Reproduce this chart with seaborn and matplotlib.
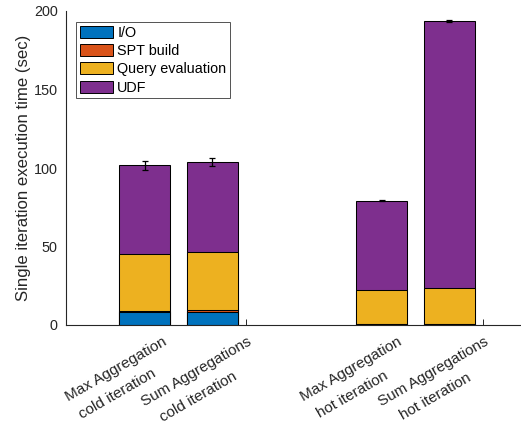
import matplotlib
matplotlib.use("Agg")
import matplotlib.pyplot as plt
import matplotlib.transforms as mtransforms
from matplotlib.patches import Patch
from matplotlib.font_manager import FontProperties
import seaborn as sns
import pandas as pd
import numpy as np

# ---- data ----
categories = ["Max Aggregation\ncold iteration", "Sum Aggregations\ncold iteration",
              "Max Aggregation\nhot iteration", "Sum Aggregations\nhot iteration"]
components = ["I/O", "SPT build", "Query evaluation", "UDF"]
io_time = [8.1, 8.5, 0.4, 0.4]
spt_time = [1.0, 1.0, 0.2, 0.2]
query_time = [35.9, 37.2, 21.7, 22.8]
udf_time = [56.7, 57.1, 56.7, 170.4]
err = [3.0, 2.6, 0.3, 0.6]

colors = ["#0072BD", "#D95319", "#EDB120", "#7E2F8E"]

# ---- layout (positions) ----
bar_pos = [1.0, 2.0, 4.5, 5.5]
tick_pos = [1.25, 2.5, 4.72, 6.0]

sns.set_style("white")
plt.rcParams['font.family'] = ['Liberation Sans', 'DejaVu Sans']
axcol = "#262626"
DPI = 100

fig = plt.figure(figsize=(5.21, 4.28), dpi=DPI)
ax = fig.add_axes([66/521, (428-325)/428, (521-66)/521, 314/428])

layers = np.array([io_time, spt_time, query_time, udf_time])
cum = np.cumsum(layers, axis=0)

# draw from top cumulative down so lower segments overlay
for i in range(3, -1, -1):
    df = pd.DataFrame({"x": bar_pos, "y": cum[i]})
    sns.barplot(data=df, x="x", y="y", native_scale=True, width=0.75,
                color=colors[i], saturation=1, edgecolor="black",
                linewidth=0.75, ax=ax, errorbar=None)

ax.errorbar(bar_pos, cum[3], yerr=err, fmt="none", ecolor="black",
            elinewidth=0.9, capsize=2.5, capthick=0.9, zorder=5)

ax.set_xlim(-0.16, 6.56)
ax.set_ylim(0, 200)
ax.set_yticks([0, 50, 100, 150, 200])
ax.set_xticks(tick_pos)
ax.set_xticklabels([])
ax.set_xlabel("")
ax.set_ylabel("Single iteration execution time (sec)", fontsize=12.1, color=axcol, labelpad=2)

for s in ["top", "right"]:
    ax.spines[s].set_visible(False)
for s in ["left", "bottom"]:
    ax.spines[s].set_color(axcol)
    ax.spines[s].set_linewidth(0.8)

ax.tick_params(axis="both", direction="in", length=4, width=0.7, color=axcol,
               labelsize=10.4, labelcolor=axcol)
ax.tick_params(axis="y", pad=6)
ax.tick_params(axis="x", bottom=True)

# rotated two-line tick labels (second line shifted straight down, as in reference)
fs_lab = 11
fp = FontProperties(family=['Liberation Sans', 'DejaVu Sans'], size=fs_lab)
renderer = fig.canvas.get_renderer()
ang = np.deg2rad(30)
base = mtransforms.blended_transform_factory(ax.transData, ax.transAxes)


def off(dx, dy):
    return base + mtransforms.ScaledTranslation(dx / DPI, -dy / DPI, fig.dpi_scale_trans)


for xp, lab in zip(tick_pos, categories):
    l1, l2 = lab.split("\n")
    w1, _, _ = renderer.get_text_width_height_descent(l1, fp, ismath=False)
    ax0, ay0 = 6.0, 19.0
    ax.text(xp, 0, l1, transform=off(ax0, ay0), rotation=30, rotation_mode="anchor",
            ha="right", va="baseline", fontproperties=fp, color=axcol)
    cx = ax0 - (w1 / 2) * np.cos(ang) + 2
    cy = ay0 + (w1 / 2) * np.sin(ang) + 25
    ax.text(xp, 0, l2, transform=off(cx, cy), rotation=30, rotation_mode="anchor",
            ha="center", va="baseline", fontproperties=fp, color=axcol)

handles = [Patch(facecolor=c, edgecolor="black", linewidth=0.7) for c in colors]
leg = ax.legend(handles, components, loc="upper left",
                bbox_to_anchor=(10/455, 1 - 11/314), fontsize=10.4,
                frameon=True, fancybox=False, edgecolor=axcol,
                handlelength=2.3, handleheight=0.9, handletextpad=0.3,
                labelspacing=0.3, borderpad=0.25, borderaxespad=0)
leg.get_frame().set_linewidth(0.7)
for t in leg.get_texts():
    t.set_color("black")

fig.savefig("out.png", dpi=DPI)
